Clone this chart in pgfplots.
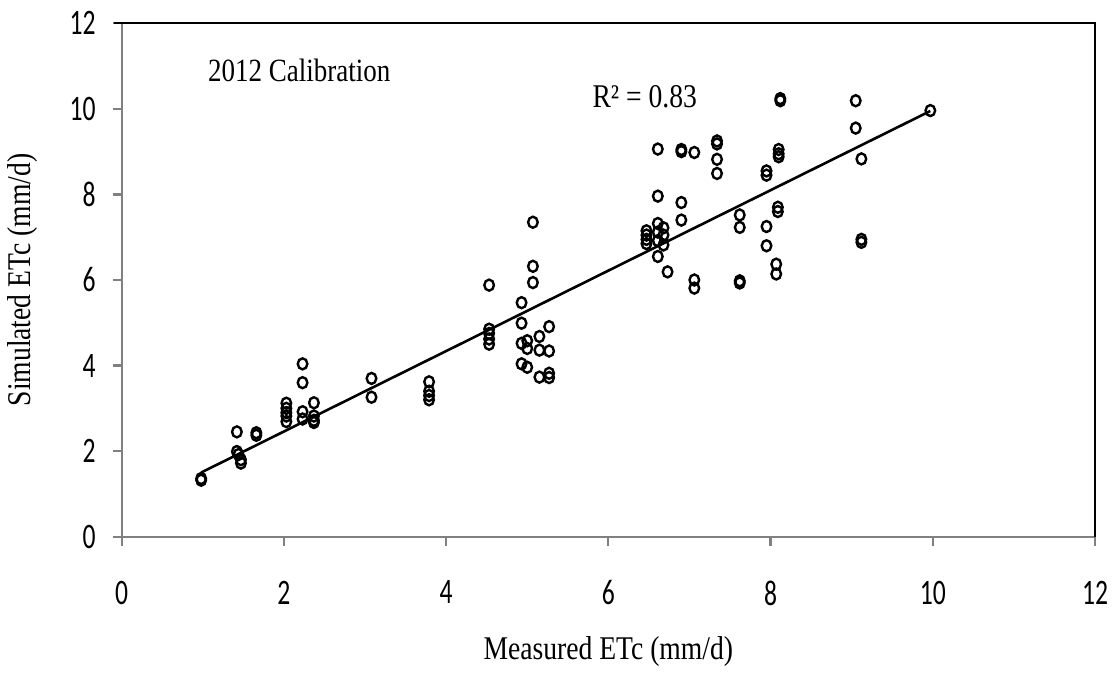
\documentclass[border=0pt]{standalone}
\usepackage{pgfplots}
\pgfplotsset{compat=1.18}
\usepackage{graphicx}
\usepackage{fontspec}
\setmainfont{Liberation Serif}
\newfontfamily\tickfont{Carlito}
\newcommand\tallt[1]{\scalebox{1}[1.2]{#1}}
\newcommand\tallk[1]{\scalebox{1}[1.4]{#1}}

\begin{document}
\begin{tikzpicture}
\begin{axis}[
  scale only axis, width=486.65pt, height=256.7pt,
  xmin=0, xmax=12, ymin=0, ymax=12,
  xtick={0,2,...,12}, ytick={0,2,...,12},
  axis x line*=bottom, axis y line*=left,
  axis line style={-, black!50, line width=1.1pt},
  tick style={black!50, line width=1.1pt},
  tick align=outside, major tick length=4.5pt,
  xticklabel={\tallk{\pgfmathprintnumber[assume math mode=true]{\tick}}},
  yticklabel={\tallk{\pgfmathprintnumber[assume math mode=true]{\tick}}},
  tick label style={font=\tickfont\fontsize{12.8}{15}\selectfont},
  xticklabel style={yshift=-14pt},
  yticklabel style={xshift=-5pt},
  xlabel={\tallt{Measured ETc (mm/d)}},
  ylabel={\tallt{Simulated ETc (mm/d)}},
  label style={font=\fontsize{13.8}{16}\selectfont},
  xlabel style={at={(axis description cs:0.5,-0.224)}, anchor=center},
  ylabel style={at={(axis description cs:-0.1014,0.5)}, anchor=center},
  clip=false]
\draw[black, line width=0.9pt] (axis cs:-0.1,12) -- (axis cs:12,12) -- (axis cs:12,0);
\addplot[only marks, mark=o, mark size=2.4pt,
  mark options={line width=1.2pt, yscale=1.15}] coordinates {
(0.98,1.36) (0.98,1.32)
(1.42,2.45) (1.42,1.99) (1.44,1.92) (1.47,1.80) (1.47,1.72)
(1.66,2.43) (1.66,2.37)
(2.03,3.12) (2.03,3.00) (2.03,2.90) (2.03,2.82) (2.03,2.69)
(2.23,4.04) (2.23,3.60) (2.23,2.92) (2.23,2.75)
(2.37,3.13) (2.37,2.82) (2.37,2.72) (2.37,2.67)
(3.08,3.70) (3.08,3.26)
(3.79,3.62) (3.79,3.40) (3.79,3.30) (3.79,3.20)
(4.53,5.88) (4.53,4.85) (4.53,4.75) (4.53,4.62) (4.53,4.50)
(4.93,5.47) (4.93,4.99) (4.93,4.52) (4.93,4.04)
(5.00,4.58) (5.00,4.40) (5.00,3.96)
(5.07,7.35) (5.07,6.32) (5.07,5.94)
(5.15,4.68) (5.15,4.36) (5.15,3.73)
(5.27,4.91) (5.27,4.34) (5.27,3.82) (5.27,3.72)
(6.47,7.15) (6.47,7.05) (6.47,6.95) (6.47,6.85)
(6.61,9.06) (6.61,7.96) (6.61,7.32) (6.61,7.12) (6.61,6.92) (6.61,6.55)
(6.68,7.22) (6.68,7.05) (6.68,6.82)
(6.73,6.19)
(6.90,9.05) (6.90,9.00) (6.90,7.81) (6.90,7.40)
(7.06,8.98) (7.06,6.00) (7.06,5.81)
(7.34,9.25) (7.34,9.18) (7.34,8.82) (7.34,8.49)
(7.62,7.52) (7.62,7.23) (7.62,5.98) (7.62,5.93)
(7.95,8.55) (7.95,8.45) (7.95,7.25) (7.95,6.80)
(8.12,10.24) (8.12,10.19) (8.10,9.05) (8.10,8.95) (8.10,8.88)
(8.09,7.70) (8.09,7.60) (8.07,6.37) (8.07,6.14)
(9.05,10.19) (9.05,9.55)
(9.12,8.83) (9.12,6.95) (9.12,6.88)
(9.97,9.96)
};
\addplot[black, line width=1.3pt] coordinates {(0.98,1.50) (9.97,9.95)};
\node[anchor=west, font=\fontsize{13.5}{16}\selectfont, inner sep=0pt]
  at (axis cs:1.06,10.89) {\tallt{2012 Calibration}};
\node[anchor=west, font=\fontsize{13.8}{16}\selectfont, inner sep=0pt]
  at (axis cs:5.80,10.29) {\tallt{R² = 0.83}};
\end{axis}
\pgfresetboundingbox
\path[use as bounding box] (-60.85pt,-68.15pt) rectangle (497.15pt,268.35pt);
\end{tikzpicture}
\end{document}
